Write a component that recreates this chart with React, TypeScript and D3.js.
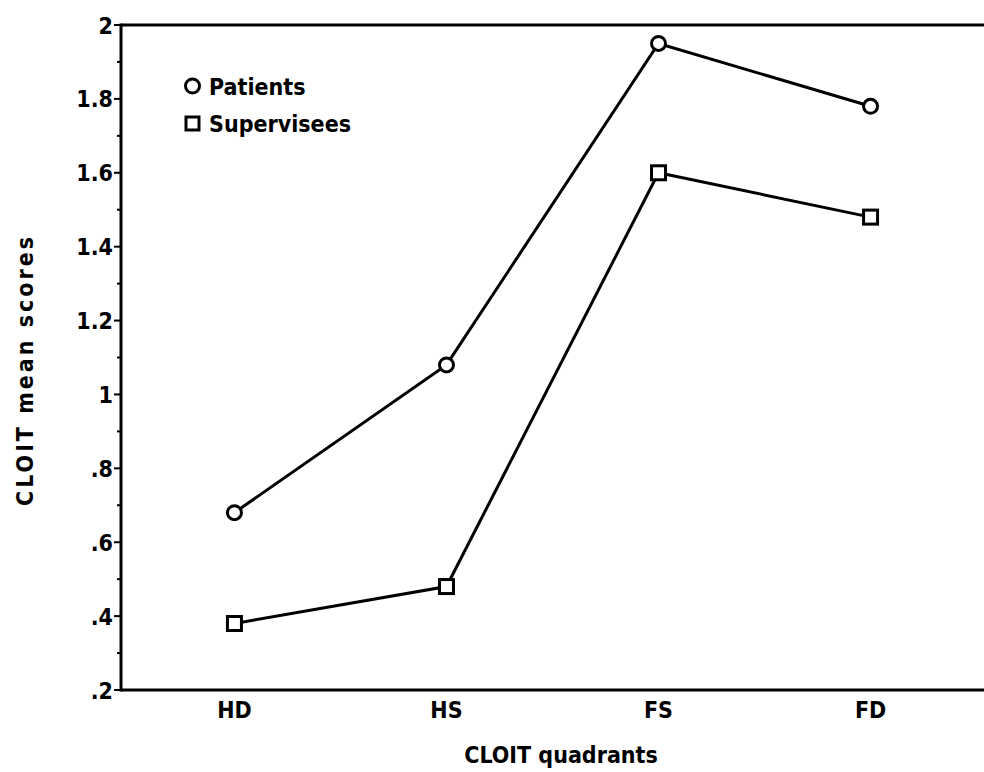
import React from 'react';
import * as d3 from 'd3';

// chart data
const quadrants = ['HD', 'HS', 'FS', 'FD'];
const patients = [0.68, 1.08, 1.95, 1.78];
const supervisees = [0.38, 0.48, 1.6, 1.48];
const yTicks = [0.2, 0.4, 0.6, 0.8, 1, 1.2, 1.4, 1.6, 1.8, 2];
const minorTicks = [0.3, 0.5, 0.7, 0.9, 1.1, 1.3, 1.5, 1.7, 1.9];

const W = 984;
const H = 772;
const left = 121;
const top = 25;
const bottom = 690;
const right = 984;

// ".4" style labels, whole numbers without decimals
const fmt = (v: number) => (Number.isInteger(v) ? String(v) : v.toFixed(1).replace(/^0/, ''));

const font = '"DejaVu Sans Condensed", "DejaVu Sans", sans-serif';

export default function App() {
  const x = d3.scalePoint<string>().domain(quadrants).range([left, right]).padding(0.535);
  const y = d3.scaleLinear().domain([0.2, 2]).range([bottom, top]);
  const line = d3
    .line<number>()
    .x((_, i) => x(quadrants[i]) as number)
    .y((d) => y(d));

  return (
    <svg width={W} height={H} style={{ position: 'absolute', left: 0, top: 0 }}>
      <rect width={W} height={H} fill="#fff" />
      {/* frame: top, bottom and left lines */}
      <path d={`M${left},${top} H${right}`} stroke="#000" strokeWidth={3} />
      <path d={`M${left},${bottom} H${right}`} stroke="#000" strokeWidth={3} />
      <path d={`M${left},${top - 1.5} V${bottom + 1.5}`} stroke="#000" strokeWidth={3} />

      {yTicks.map((t) => (
        <g key={t}>
          <line x1={left - 7} x2={left} y1={y(t)} y2={y(t)} stroke="#000" strokeWidth={2} />
          <text
            x={left - 8}
            y={y(t) + 8.5}
            textAnchor="end"
            fontFamily={font}
            fontWeight="bold"
            fontSize={23}
          >
            {fmt(t)}
          </text>
        </g>
      ))}
      {minorTicks.map((t) => (
        <line key={t} x1={left - 4} x2={left} y1={y(t)} y2={y(t)} stroke="#000" strokeWidth={2} />
      ))}

      {quadrants.map((q) => (
        <text
          key={q}
          x={x(q)}
          y={bottom + 28}
          textAnchor="middle"
          fontFamily={font}
          fontWeight="bold"
          fontSize={23}
        >
          {q}
        </text>
      ))}

      <path d={line(patients) || ''} fill="none" stroke="#000" strokeWidth={3} />
      <path d={line(supervisees) || ''} fill="none" stroke="#000" strokeWidth={3} />

      {patients.map((v, i) => (
        <circle key={i} cx={x(quadrants[i])} cy={y(v)} r={7} fill="#fff" stroke="#000" strokeWidth={3} />
      ))}
      {supervisees.map((v, i) => (
        <rect
          key={i}
          x={(x(quadrants[i]) as number) - 7}
          y={y(v) - 7}
          width={14}
          height={14}
          fill="#fff"
          stroke="#000"
          strokeWidth={3}
        />
      ))}

      {/* legend */}
      <circle cx={192.5} cy={86} r={7} fill="#fff" stroke="#000" strokeWidth={3} />
      <text x={209} y={95} fontFamily={font} fontWeight="bold" fontSize={23}>
        Patients
      </text>
      <rect x={186} y={117} width={13} height={13} fill="#fff" stroke="#000" strokeWidth={3} />
      <text x={209} y={132} fontFamily={font} fontWeight="bold" fontSize={23}>
        Supervisees
      </text>

      {/* axis titles */}
      <text
        x={561}
        y={763}
        textAnchor="middle"
        fontFamily={font}
        fontWeight="bold"
        fontSize={23}
      >
        CLOIT quadrants
      </text>
      <text
        transform="translate(33,370) rotate(-90)"
        textAnchor="middle"
        fontFamily={font}
        fontWeight="bold"
        fontSize={23}
        letterSpacing={3}
      >
        CLOIT mean scores
      </text>
    </svg>
  );
}
